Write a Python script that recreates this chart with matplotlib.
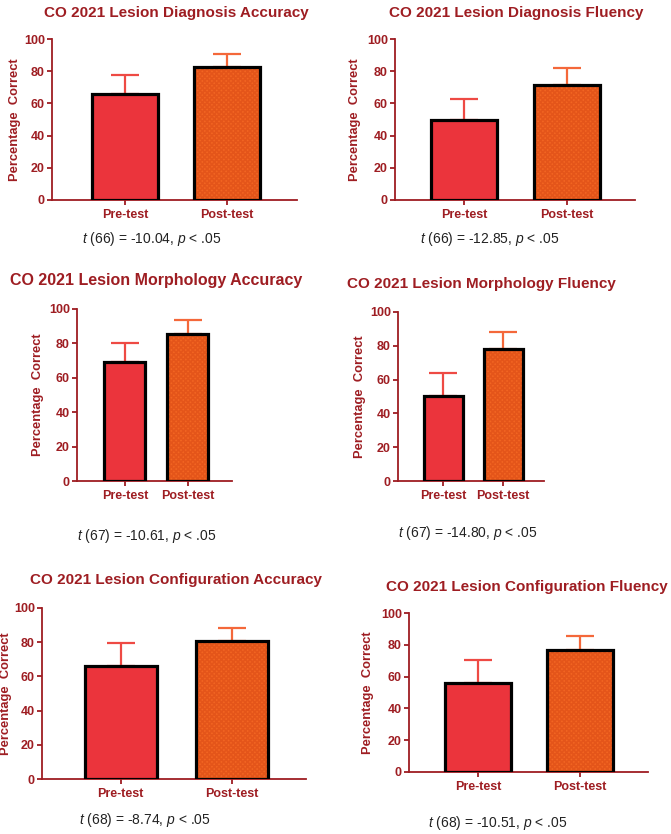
import numpy as np
import matplotlib
matplotlib.use("Agg")
import matplotlib.pyplot as plt

plt.rcParams['font.family'] = ['Liberation Sans', 'DejaVu Sans']
plt.rcParams['mathtext.fontset'] = 'custom'
plt.rcParams['mathtext.it'] = 'Liberation Sans:italic'
plt.rcParams['mathtext.rm'] = 'Liberation Sans'
plt.rcParams['hatch.linewidth'] = 1.2

groups = ['Pre-test', 'Post-test']

titles = [
    'CO 2021 Lesion Diagnosis Accuracy',
    'CO 2021 Lesion Diagnosis Fluency',
    'CO 2021 Lesion Morphology Accuracy',
    'CO 2021 Lesion Morphology Fluency',
    'CO 2021 Lesion Configuration Accuracy',
    'CO 2021 Lesion Configuration Fluency',
]

# means (pre, post) and upper error (top of whisker)
means = [
    [66, 82.4],
    [50, 71.5],
    [69, 85.3],
    [50.5, 78.4],
    [66, 80.6],
    [56.2, 76.8],
]
err_tops = [
    [77.8, 90.9],
    [62.7, 82.0],
    [80.5, 93.8],
    [63.7, 88.4],
    [79.4, 88.3],
    [70.5, 85.7],
]
stats = [
    r'$\it{t}$ (66) = -10.04, $\it{p}$ < .05',
    r'$\it{t}$ (66) = -12.85, $\it{p}$ < .05',
    r'$\it{t}$ (67) = -10.61, $\it{p}$ < .05',
    r'$\it{t}$ (67) = -14.80, $\it{p}$ < .05',
    r'$\it{t}$ (68) = -8.74, $\it{p}$ < .05',
    r'$\it{t}$ (68) = -10.51, $\it{p}$ < .05',
]

W, H = 671, 834
# layout in pixels: spine x, axis end x, y of 100, y of 0, xlim,
# title (x, y, size), stat (x, y), ylabel centre x
layout = [
    (52, 297, 39, 200, (-0.72, 1.686), (176, 13, 11), (152, 239), 15),
    (395, 635, 39, 200, (-0.67, 1.66), (516, 13, 11), (490, 239), 355),
    (77, 232, 309, 481, (-0.76, 1.70), (156, 281, 11.5), (147, 536), 38),
    (398, 544, 312, 481, (-0.75, 1.68), (481, 284, 11), (468, 533), 360),
    (42, 306, 608, 779, (-0.71, 1.67), (176, 580, 11), (145, 820), 6),
    (409, 648, 613, 772, (-0.68, 1.67), (527, 587, 11), (498, 823), 368),
]

dark_red = '#9E1D22'
pre_col = '#EB343C'
post_col = '#F26522'
pre_err = '#EE4A44'
post_err = '#F4683A'

fig = plt.figure(figsize=(W / 100, H / 100), dpi=100)

for i in range(6):
    x0, x1, y100, y0, xl, tpos, spos, lx = layout[i]
    ax = fig.add_axes([x0 / W, 1 - y0 / H, (x1 - x0) / W, (y0 - y100) / H])
    ax.set_xlim(xl)
    ax.set_ylim(0, 100)
    xs = np.arange(2)
    m = means[i]
    e = [err_tops[i][k] - m[k] for k in range(2)]

    ax.errorbar([0], [m[0]], yerr=[[0], [e[0]]], fmt='none', ecolor=pre_err,
                elinewidth=1.6, capsize=10, capthick=1.6, zorder=1)
    ax.errorbar([1], [m[1]], yerr=[[0], [e[1]]], fmt='none', ecolor=post_err,
                elinewidth=1.6, capsize=10, capthick=1.6, zorder=1)

    ax.bar(0, m[0], width=0.65, color=pre_col, edgecolor='none', zorder=2)
    ax.bar(1, m[1], width=0.65, color=post_col, edgecolor='#E4551A',
           hatch='xxxxxxx', linewidth=0, zorder=2)
    ax.bar(xs, m, width=0.65, color='none', edgecolor='black', linewidth=2.3, zorder=3)

    for s in ['top', 'right']:
        ax.spines[s].set_visible(False)
    for s in ['left', 'bottom']:
        ax.spines[s].set_color(dark_red)
        ax.spines[s].set_linewidth(1.3)
    ax.set_yticks([0, 20, 40, 60, 80, 100])
    ax.set_xticks(xs)
    ax.set_xticklabels(groups)
    ax.tick_params(colors=dark_red, width=1.3, length=3.6)
    ax.tick_params(axis='y', labelsize=9, pad=1.5)
    ax.tick_params(axis='x', labelsize=9, pad=3)
    for lab in ax.get_xticklabels() + ax.get_yticklabels():
        lab.set_fontweight('bold')
    ax.set_ylabel('Percentage  Correct', color=dark_red, fontsize=9.3,
                  fontweight='bold', va='center')
    ax.yaxis.set_label_coords((lx - x0) / (x1 - x0), 0.5)

    fig.text(tpos[0] / W, 1 - tpos[1] / H, titles[i], ha='center', va='center',
             color=dark_red, fontsize=tpos[2], fontweight='bold')
    fig.text(spos[0] / W, 1 - spos[1] / H, stats[i], ha='center', va='center',
             color='#222222', fontsize=10)

fig.savefig('out.png', dpi=100)
